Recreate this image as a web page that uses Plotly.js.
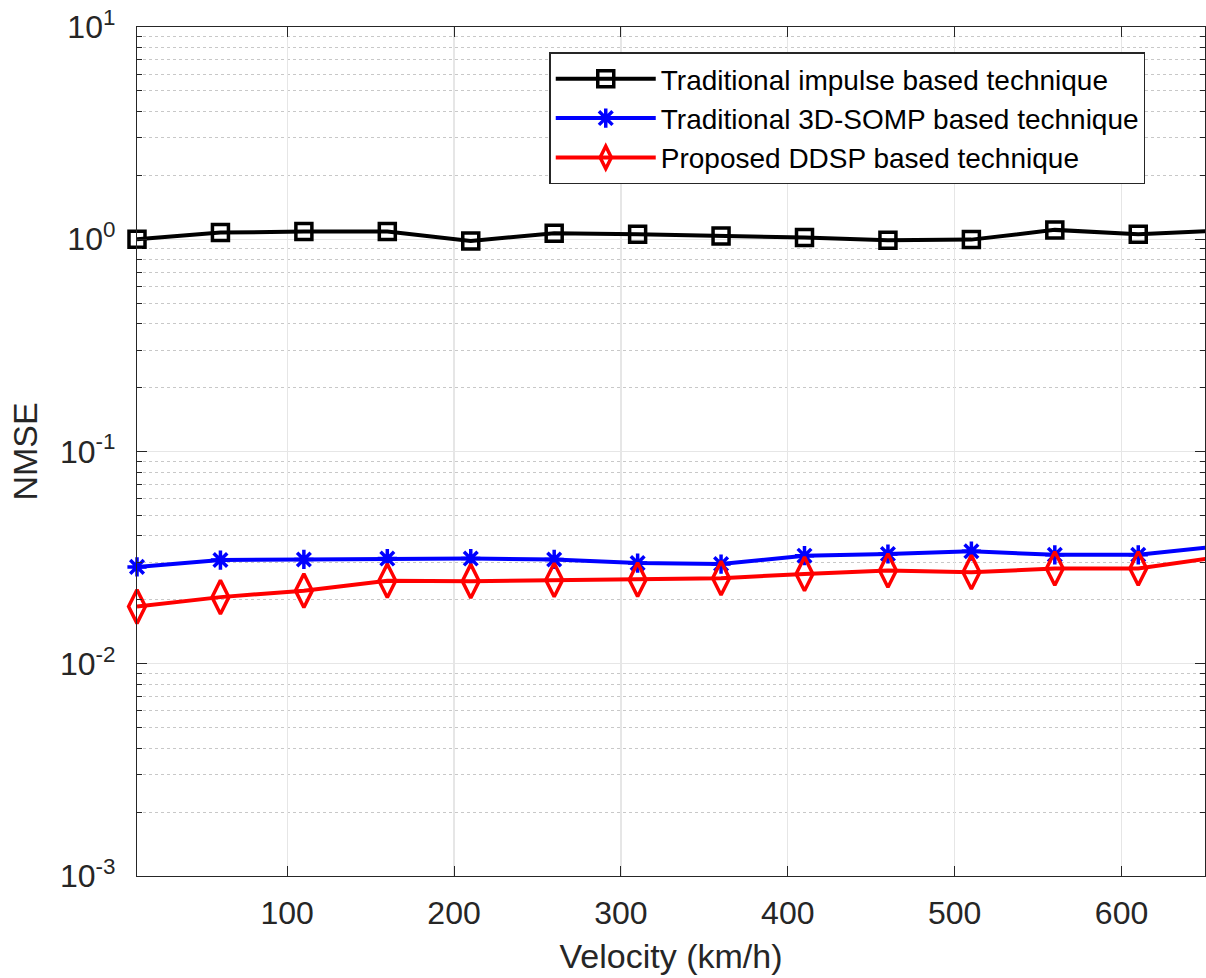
<!DOCTYPE html>
<html>
<head>
<meta charset="utf-8">
<script src="https://cdn.plot.ly/plotly-3.0.1.min.js"></script>
<style>html,body{margin:0;padding:0;background:#fff;}#chart{width:1206px;height:978px;}</style>
</head>
<body>
<div id="chart"></div>
<script>
const velocity = [10, 60, 110, 160, 210, 260, 310, 360, 410, 460, 510, 560, 610, 660];
const nmseImpulse = [1.00, 1.075, 1.087, 1.087, 0.982, 1.067, 1.056, 1.037, 1.018, 0.989, 0.996, 1.107, 1.056, 1.10];
const nmse3DSOMP = [0.0286, 0.0308, 0.0310, 0.0313, 0.0313, 0.0310, 0.0298, 0.0295, 0.0323, 0.0329, 0.0339, 0.0326, 0.0326, 0.0359];
const nmseDDSP = [0.0186, 0.0206, 0.0221, 0.0246, 0.0245, 0.0248, 0.0249, 0.0253, 0.0265, 0.0275, 0.0270, 0.0281, 0.0281, 0.0320];

const seriesNames = ['Traditional impulse based technique', 'Traditional 3D-SOMP based technique', 'Proposed DDSP based technique'];

const xTickVals = [100, 200, 300, 400, 500, 600];
const xTickText = ['100', '200', '300', '400', '500', '600'];
const yTickVals = [0.001, 0.01, 0.1, 1, 10];
const yTickText = ['10<sup>-3</sup>', '10<sup>-2</sup>', '10<sup>-1</sup>', '10<sup>0</sup>', '10<sup>1</sup>'];

const minorY = [];
for (let d = -3; d <= 0; d++) {
  for (let m = 2; m <= 9; m++) minorY.push(m * Math.pow(10, d));
}

const FONT = 'Liberation Sans, Arial, Helvetica, sans-serif';
const AX = '#262626';

const traces = [
  {x: velocity, y: nmseImpulse, name: seriesNames[0], mode: 'lines+markers', cliponaxis: false,
   line: {color: '#000000', width: 4},
   marker: {symbol: 'square-open', size: 16, color: '#000000', line: {width: 3.5, color: '#000000'}}},
  {x: velocity, y: nmse3DSOMP, name: seriesNames[1], mode: 'lines+markers', cliponaxis: false,
   line: {color: '#0000ff', width: 4},
   marker: {symbol: 'asterisk-open', size: 16, color: '#0000ff', line: {width: 3.5, color: '#0000ff'}}},
  {x: velocity, y: nmseDDSP, name: seriesNames[2], mode: 'lines+markers', cliponaxis: false,
   line: {color: '#ff0000', width: 4},
   marker: {symbol: 'diamond-tall-open', size: 24, color: '#ff0000', line: {width: 3.5, color: '#ff0000'}}}
];

const layout = {
  width: 1206, height: 978,
  margin: {l: 137, r: 1, t: 27, b: 102},
  paper_bgcolor: '#ffffff', plot_bgcolor: '#ffffff',
  font: {family: FONT, color: AX},
  showlegend: true,
  legend: {
    x: 0.386, y: 0.97, xanchor: 'left', yanchor: 'top',
    bgcolor: '#ffffff', bordercolor: AX, borderwidth: 1.5,
    font: {family: FONT, size: 28, color: '#000000'},
    itemwidth: 100, tracegroupgap: 0
  },
  xaxis: {
    range: [10, 650], tickvals: xTickVals, ticktext: xTickText,
    ticks: 'inside', ticklen: 10, tickwidth: 1, tickcolor: AX,
    showline: true, linecolor: AX, linewidth: 1.2, mirror: 'ticks',
    showgrid: true, gridcolor: '#e6e6e6', gridwidth: 1.2, zeroline: false,
    tickfont: {family: FONT, size: 32, color: AX}, ticklabelstandoff: 8,
    title: {text: 'Velocity (km/h)', font: {family: FONT, size: 34, color: AX}, standoff: 14}
  },
  yaxis: {
    type: 'log', range: [-3, 1], tickvals: yTickVals, ticktext: yTickText,
    ticks: 'inside', ticklen: 10, tickwidth: 1, tickcolor: AX,
    showline: true, linecolor: AX, linewidth: 1.2, mirror: 'ticks',
    showgrid: true, gridcolor: '#e6e6e6', gridwidth: 1.2, zeroline: false,
    tickfont: {family: FONT, size: 32, color: AX}, ticklabelstandoff: 14,
    minor: {tickvals: minorY, ticks: 'inside', ticklen: 5, tickcolor: AX,
            showgrid: true, gridcolor: '#c8c8c8', griddash: 'dot', gridwidth: 1},
    title: {text: 'NMSE', font: {family: FONT, size: 34, color: AX}, standoff: 12}
  }
};

Plotly.newPlot('chart', traces, layout, {displayModeBar: false, staticPlot: true});
</script>
</body>
</html>
